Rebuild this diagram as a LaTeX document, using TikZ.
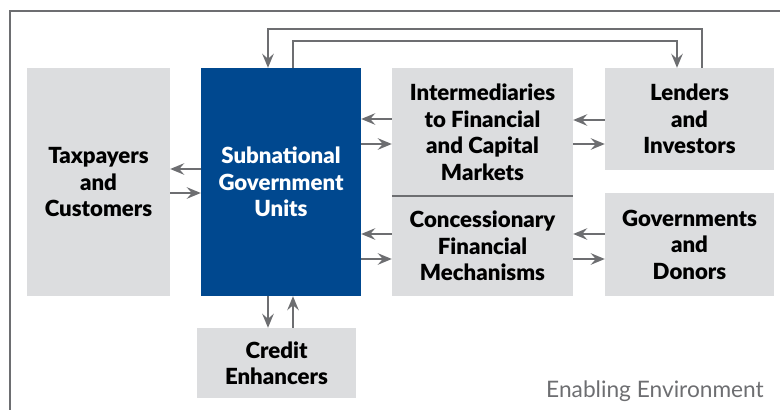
\documentclass[tikz,border=0pt]{standalone}
\usepackage{fontspec}
\setmainfont{Lato}[BoldFont={Lato Black}]
\usetikzlibrary{arrows.meta,calc}
\definecolor{boxgray}{HTML}{DCDDDF}
\definecolor{sgublue}{HTML}{00488F}
\definecolor{linegray}{HTML}{6D6E71}
\tikzset{
  box/.style={rectangle, fill=boxgray, inner sep=0pt, align=center,
    font=\fontsize{22.2}{26.5}\selectfont\bfseries, text=black},
  bluebox/.style={box, fill=sgublue, text=white},
  arr/.style={draw=linegray, line width=2pt,
    -{Stealth[length=14pt,width=11.5pt,inset=5pt]}},
  frameline/.style={draw=linegray, line width=2pt}
}
\begin{document}
\begin{tikzpicture}[x=1pt,y=-1pt]
\useasboundingbox (0,0) rectangle (780,410);
\draw[frameline] (10,412) -- (10,11) -- (782,11);
\node[box, minimum width=143pt, minimum height=228pt] (tax) at (98.5,182) {Taxpayers\\and\\Customers};
\node[bluebox, minimum width=160pt, minimum height=228pt] (sgu) at (281,182) {Subnational\\Government\\Units};
\node[box, minimum width=181pt, minimum height=128pt] (inter) at (482.5,132) {Intermediaries\\to Financial\\and Capital\\Markets};
\node[box, minimum width=181pt, minimum height=100pt] (conc) at (482.5,246) {Concessionary\\Financial\\Mechanisms};
\node[box, minimum width=169pt, minimum height=102pt] (lend) at (689.5,119) {Lenders\\and\\Investors};
\node[box, minimum width=169pt, minimum height=103pt] (gov) at (689.5,244.5) {Governments\\and\\Donors};
\node[box, minimum width=159pt, minimum height=70pt] (cred) at (276.5,363) {Credit\\Enhancers};
\draw[draw=linegray, line width=1.5pt] (inter.south west) -- (inter.south east);
\node[anchor=base east, text=linegray, font=\fontsize{22.7}{24}\selectfont, inner sep=0pt] (env) at (764,397) {Enabling Environment};
% taxpayers <-> sgu
\draw[arr] (sgu.west |- 0,169) -- (tax.east |- 0,169);
\draw[arr] (tax.east |- 0,193) -- (sgu.west |- 0,193);
% sgu <-> inter
\draw[arr] (inter.west |- 0,119) -- (sgu.east |- 0,119);
\draw[arr] (sgu.east |- 0,144) -- (inter.west |- 0,144);
% sgu <-> conc
\draw[arr] (conc.west |- 0,234) -- (sgu.east |- 0,234);
\draw[arr] (sgu.east |- 0,259) -- (conc.west |- 0,259);
% inter <-> lend
\draw[arr] (lend.west |- 0,120) -- (inter.east |- 0,120);
\draw[arr] (inter.east |- 0,144) -- (lend.west |- 0,144);
% conc <-> gov
\draw[arr] (gov.west |- 0,234) -- (conc.east |- 0,234);
\draw[arr] (conc.east |- 0,259) -- (gov.west |- 0,259);
% sgu <-> cred
\draw[arr] (sgu.south -| 268,0) -- (cred.north -| 268,0);
\draw[arr] (cred.north -| 293,0) -- (sgu.south -| 293,0);
% top loops
\draw[arr] (lend.north -| 702,0) |- (268,29) -- (sgu.north -| 268,0);
\draw[arr] (sgu.north -| 293,0) |- (677,41) -- (lend.north -| 677,0);
\end{tikzpicture}
\end{document}
